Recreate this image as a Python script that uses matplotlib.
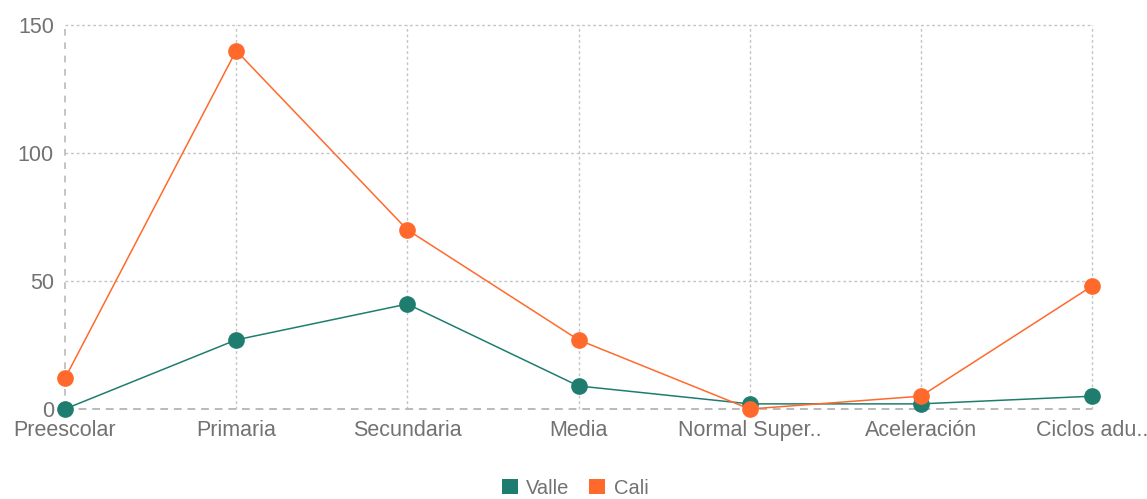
import matplotlib
matplotlib.use("Agg")
import matplotlib.pyplot as plt
from matplotlib.patches import Patch

categories = ["Preescolar", "Primaria", "Secundaria", "Media", "Normal Super..", "Aceleración", "Ciclos adu.."]
valle = [0, 27, 41, 9, 2, 2, 5]
cali = [12, 140, 70, 27, 0, 5, 48]
yticks = [0, 50, 100, 150]

c_valle = "#1f7d70"
c_cali = "#ff6a2c"
txt = "#727272"

plt.rcParams['font.family'] = ['Liberation Sans', 'DejaVu Sans']

fig = plt.figure(figsize=(11.47, 4.99), dpi=100)
ax = fig.add_axes([65/1147, 90/499, (1092-65)/1147, 384/499])

x = list(range(len(categories)))
ax.set_xlim(0, len(categories) - 1)
ax.set_ylim(0, 150)

# grid
for yv in yticks[1:]:
    ax.axhline(yv, color="#c4c4c4", lw=1.0, ls=(0, (2, 2)), zorder=0, clip_on=False)
for xv in x[1:]:
    ax.axvline(xv, color="#c4c4c4", lw=1.0, ls=(0, (2, 2)), zorder=0, clip_on=False)
ax.axvline(0, color="#bababa", lw=1.2, ls=(0, (4, 4)), zorder=0, clip_on=False)
ax.axhline(0, color="#bababa", lw=1.4, ls=(0, (4, 3)), zorder=0, clip_on=False)

ax.plot(x, valle, color=c_valle, lw=1.1, marker="o", markersize=11, clip_on=False, zorder=3)
ax.plot(x, cali, color=c_cali, lw=1.1, marker="o", markersize=11, clip_on=False, zorder=4)

for s in ax.spines.values():
    s.set_visible(False)
ax.set_yticks(yticks)
ax.set_yticklabels([str(v) for v in yticks])
ax.set_xticks(x)
ax.set_xticklabels(categories)
ax.tick_params(axis="both", length=0, labelsize=15.5, colors=txt)
ax.tick_params(axis="y", pad=8)
ax.tick_params(axis="x", pad=8)

handles = [Patch(facecolor=c_valle, label="Valle"), Patch(facecolor=c_cali, label="Cali")]
leg = fig.legend(handles=handles, loc="center", bbox_to_anchor=(575/1147, 11/499), ncol=2,
                 frameon=False, fontsize=14.5, handlelength=0.8, handleheight=0.8,
                 handletextpad=0.4, columnspacing=1.0, labelcolor=txt,
                 borderpad=0.1)

fig.savefig("out.png", dpi=100)
